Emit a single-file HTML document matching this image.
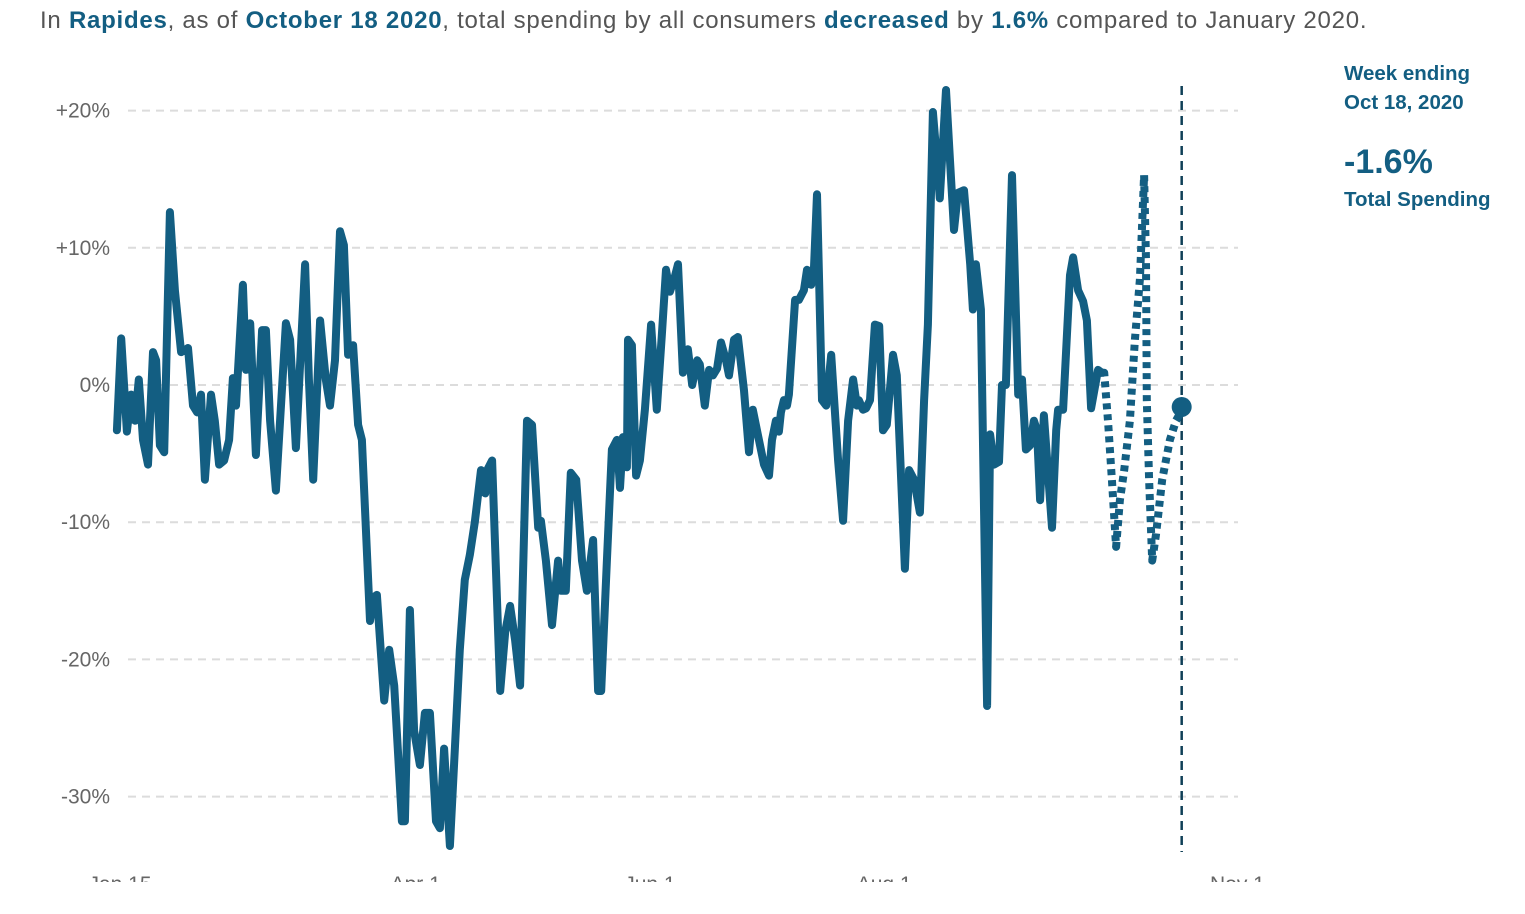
<!DOCTYPE html>
<html><head><meta charset="utf-8">
<style>
html,body{margin:0;padding:0;background:#fff;width:1525px;height:914px;overflow:hidden;font-family:"Liberation Sans",sans-serif;}
#title{position:absolute;left:40px;top:7px;font-size:24px;color:#555;white-space:nowrap;letter-spacing:0.75px}
#title b{color:#135e82}
.ann{position:absolute;left:1344px;color:#135e82;font-weight:bold;white-space:nowrap}
svg{position:absolute;left:0;top:0}
</style></head><body>
<div id="title">In <b>Rapides</b>, as of <b>October 18 2020</b>, total spending by all consumers <b>decreased</b> by <b>1.6%</b> compared to January 2020.</div>
<div class="ann" style="top:59px;font-size:20.5px;line-height:29px">Week ending<br>Oct 18, 2020</div>
<div class="ann" style="top:143px;font-size:34px">-1.6%</div>
<div class="ann" style="top:188px;font-size:20.5px">Total Spending</div>
<svg id="chart" width="1525" height="914"></svg>
<script>
// day offsets from Jan 15 2020
const solidDays=[-0.8,0.3,1.8,2.9,3.9,4.9,6.0,7.3,8.6,9.4,10.4,11.5,13.0,14.3,15.9,17.2,17.7,19.0,20.1,21.1,22.1,23.7,24.7,25.8,27.1,28.4,29.4,30.2,32.0,32.8,33.9,35.4,37.0,38.0,39.1,40.6,43.2,44.3,45.8,48.2,49.2,50.3,52.1,53.6,54.7,56.0,57.3,58.3,59.4,60.7,62.0,63.0,65.1,65.9,66.9,68.8,70.1,71.4,73.4,74.2,75.5,76.6,78.1,79.4,80.7,82.3,83.3,84.4,85.9,87.2,88.5,89.8,91.1,92.4,94.0,95.1,95.8,96.9,99.0,100.3,101.6,102.9,104.2,106.0,107.3,108.9,109.6,110.9,112.5,114.1,114.8,116.1,117.4,118.8,120.3,121.6,123.2,124.5,125.3,126.8,128.1,129.4,130.2,131.0,132.0,132.3,133.3,134.4,135.4,136.7,138.3,139.8,141.1,142.2,143.2,144.3,145.3,146.6,147.9,149.0,150.3,151.0,152.3,153.4,154.4,155.5,156.5,157.8,158.6,159.9,160.9,162.5,163.8,164.8,166.1,167.7,169.0,169.8,170.8,171.6,172.1,172.9,173.7,174.2,175.8,176.8,178.1,178.9,180.0,180.7,181.5,182.8,183.9,185.2,187.0,188.3,189.6,190.9,191.9,192.4,193.5,194.3,195.3,196.6,197.7,198.7,199.7,201.3,202.3,204.4,205.5,206.8,208.3,209.4,210.4,211.7,212.8,213.5,215.1,216.1,217.2,218.2,219.8,221.4,222.1,222.9,224.2,225.8,226.6,227.6,228.9,229.7,230.7,232.3,233.9,234.9,235.9,237.0,238.0,238.8,239.6,240.6,242.7,243.8,244.3,245.6,247.4,248.2,249.5,250.8,251.8,252.9,254.7,255.7];
const solidVals=[-3.3,3.4,-3.4,-0.7,-2.6,0.4,-4.0,-5.8,2.4,1.8,-4.4,-4.9,12.6,6.9,2.4,2.6,2.7,-1.5,-2.0,-0.7,-6.9,-0.7,-2.6,-5.8,-5.5,-4.0,0.5,-1.5,7.3,1.1,4.5,-5.1,4.0,4.0,-2.6,-7.7,4.5,3.3,-4.6,8.8,0.4,-6.9,4.7,0.4,-1.5,1.8,11.2,10.2,2.2,2.9,-2.9,-4.0,-17.2,-15.5,-15.3,-23.0,-19.3,-21.9,-31.8,-31.8,-16.4,-25.2,-27.7,-23.9,-23.9,-31.8,-32.3,-26.5,-33.6,-26.6,-19.3,-14.2,-12.4,-10.0,-6.2,-7.9,-6.1,-5.5,-22.3,-18.0,-16.1,-18.6,-21.9,-2.6,-2.9,-10.4,-9.9,-12.8,-17.5,-12.8,-15.0,-15.0,-6.4,-6.9,-12.8,-15.0,-11.3,-22.3,-22.3,-12.8,-4.7,-4.0,-7.5,-3.8,-6.0,3.3,2.9,-6.6,-5.5,-1.8,4.4,-1.8,3.6,8.4,6.8,7.7,8.8,0.9,2.6,0,1.8,1.5,-1.5,1.1,0.7,1.2,3.1,1.8,0.7,3.3,3.5,-0.4,-4.9,-1.8,-3.6,-5.8,-6.6,-4.0,-2.6,-3.4,-2.0,-1.1,-1.5,-0.7,6.2,6.2,6.9,8.4,7.3,8.4,13.9,-1.1,-1.5,2.2,-5.5,-9.9,-2.6,0.4,-1.5,-1.1,-1.8,-1.7,-1.1,4.4,4.3,-3.3,-2.9,2.2,0.7,-13.4,-6.2,-6.9,-9.3,-1.1,4.4,19.9,16.1,13.6,21.5,16.6,11.3,14.0,14.2,8.8,5.5,8.8,5.5,-23.4,-3.6,-5.8,-5.6,0,0,15.3,-0.7,0.4,-4.7,-4.4,-2.6,-3.3,-8.4,-2.2,-10.4,-3.3,-1.8,-1.8,8.0,9.3,6.9,6.1,4.7,-1.7,1.1,0.9];
const dotDays=[255.7,256.3,257.3,258.3,259.4,260.4,261.5,263.0,264.3,265.6,266.7,267.2,267.4,268.0,268.8,269.8,271.4,273.4,275.0,277];
const dotVals=[0.9,0.9,-2.6,-6.9,-11.8,-8.4,-6.2,-2.6,3.3,7.7,15.3,9.1,-1.1,-6.9,-12.8,-10.9,-6.9,-4.0,-2.6,-1.6];
const yTicks=[20,10,0,-10,-20,-30];
const yTickLabels=["+20%","+10%","0%","-10%","-20%","-30%"];
const xTickDays=[0,77,138,199,291];
const xTickLabels=["Jan 15","Apr 1","Jun 1","Aug 1","Nov 1"];
const latestDay=277, latestVal=-1.6;

const NS="http://www.w3.org/2000/svg";
const svg=document.getElementById('chart');
const X=d=>120+d*3.84;
const Y=v=>385-v*13.72;
function mk(tag,attrs){const e=document.createElementNS(NS,tag);for(const k in attrs)e.setAttribute(k,attrs[k]);svg.appendChild(e);return e;}
const col="#135e82";
yTicks.forEach((t,i)=>{
  const g=mk('line',{x1:128,x2:1238,y1:Y(t),y2:Y(t),stroke:'#dcdcdc','stroke-width':2,'stroke-dasharray':'8 6'});
  
  
  const tx=mk('text',{x:110,y:Y(t)+7,'text-anchor':'end','font-size':21,fill:'#666','font-family':'Liberation Sans, sans-serif'});
  tx.textContent=yTickLabels[i];
  
  
});
const clip=mk('clipPath',{id:'xc'});
const r=document.createElementNS(NS,'rect');r.setAttribute('x',0);r.setAttribute('y',0);r.setAttribute('width',1525);r.setAttribute('height',882);clip.appendChild(r);
xTickDays.forEach((d,i)=>{
  const tx=mk('text',{x:X(d),y:891,'text-anchor':'middle','font-size':21,fill:'#666','font-family':'Liberation Sans, sans-serif','clip-path':'url(#xc)'});
  tx.textContent=xTickLabels[i];
  
  
});
const vl=mk('line',{x1:X(latestDay)-2,x2:X(latestDay)-2,y1:86,y2:852,stroke:'#0f3f57','stroke-width':2.5,'stroke-dasharray':'9 6'});


const pts=(ds,vs)=>ds.map((d,i)=>X(d).toFixed(1)+','+Y(vs[i]).toFixed(1)).join(' ');
const sl=mk('polyline',{points:pts(solidDays,solidVals),fill:'none',stroke:col,'stroke-width':8,'stroke-linejoin':'round','stroke-linecap':'round'});


const dl=mk('polyline',{points:pts(dotDays,dotVals),fill:'none',stroke:col,'stroke-width':8,'stroke-dasharray':'6 5','stroke-linejoin':'round'});


const c=mk('circle',{cx:X(latestDay)-2,cy:Y(latestVal),r:10,fill:col});


</script>
</body></html>
